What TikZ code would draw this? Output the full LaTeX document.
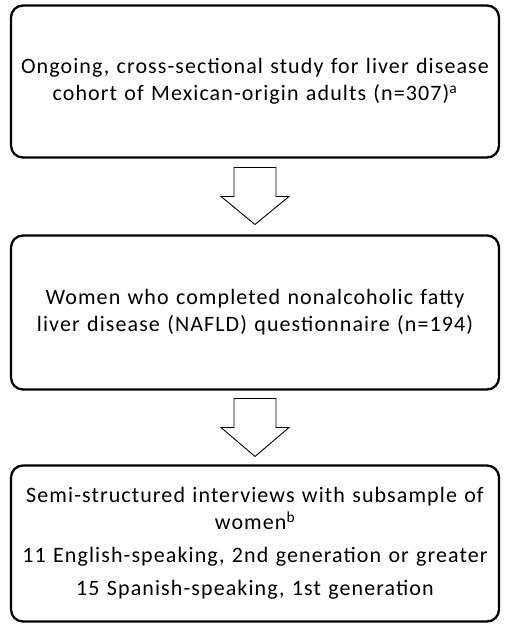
\documentclass[tikz,border=0pt]{standalone}
\usepackage{fontspec}
\setmainfont{Carlito}[LetterSpace=5]
\begin{document}
\begin{tikzpicture}[x=1pt,y=1pt]

\tikzset{
stagebox/.style={draw, line width=2.3pt, rounded corners=12pt, outer sep=0pt,
  minimum width=488pt, align=center, text width=478pt,
  font=\fontsize{22}{27}\selectfont},
hollow/.style={draw, line width=0.9pt, fill=white, line join=miter}
}

\useasboundingbox (0,0) rectangle (510,630);

\node[stagebox, minimum height=152pt]
(cohort)
at (255,548.5)
{Ongoing, cross-sectional study for liver disease\\
cohort of Mexican-origin adults (n=307)\textsuperscript{a}};

\node[stagebox, minimum height=154pt]
(women)
at (255,317.5)
{Women who completed nonalcoholic fatty\\
liver disease (NAFLD) questionnaire (n=194)};

\node[stagebox, minimum height=156pt]
(interviews)
at (255,86.5)
{Semi-structured interviews with subsample of\\
women\textsuperscript{b}\\[6pt]
11 English-speaking, 2nd generation or greater\\[6pt]
15 Spanish-speaking, 1st generation};

\draw[hollow]
([xshift=-21pt,yshift=-10pt]cohort.south)
-- ++(0,-29)
-- ++(-13,0)
-- ([yshift=11pt]women.north)
-- ++(34,28)
-- ++(-13,0)
-- ++(0,29)
-- cycle;

\draw[hollow]
([xshift=-21pt,yshift=-9pt]women.south)
-- ++(0,-29)
-- ++(-13,0)
-- ([yshift=9pt]interviews.north)
-- ++(34,29)
-- ++(-13,0)
-- ++(0,29)
-- cycle;

\end{tikzpicture}
\end{document}
